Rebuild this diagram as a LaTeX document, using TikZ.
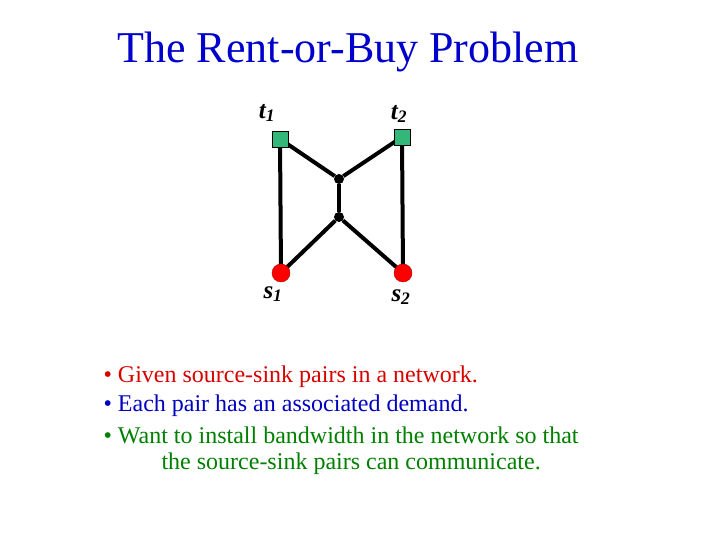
\documentclass[tikz,border=0pt]{standalone}
\usepackage{fontspec}
\setmainfont{Liberation Serif}
\begin{document}
\begin{tikzpicture}[x=1pt,y=-1pt,
  edge/.style={line width=4pt},
  term/.style={draw=black,fill=teal!70!green!80,minimum size=16pt,inner sep=0pt},
  src/.style={circle,fill=red,draw=red!70!black,minimum size=18pt,inner sep=0pt},
  junc/.style={circle,fill=black,minimum size=10pt,inner sep=0pt},
  lab/.style={font=\fontsize{25}{25}\selectfont\itshape\bfseries},
  txt/.style={anchor=west,font=\fontsize{24}{27}\selectfont}]
\path[use as bounding box,fill=white] (0,0) rectangle (720,540);
\node[font=\fontsize{44}{48}\selectfont,text=blue!80!black] (title) at (348,52) {The Rent-or-Buy Problem};
\node[junc] (u) at (339,179) {};
\node[junc] (l) at (339,217) {};
\draw[edge] (280,139) -- (u);
\draw[edge] (402,137) -- (u);
\draw[edge] (u) -- (l);
\draw[edge] (l) -- (281,273);
\draw[edge] (l) -- (403,273);
\draw[edge] (280,139) -- (281,273);
\draw[edge] (402,137) -- (403,273);
\node[term] (t1) at (280,139) {};
\node[term] (t2) at (402,137) {};
\node[src] (s1) at (281,273) {};
\node[src] (s2) at (403,273) {};
\node[lab] (lt1) at (267,113) {t\textsubscript{\textit{1}}};
\node[lab] (lt2) at (399,114) {t\textsubscript{2}};
\node[lab] (ls1) at (273,294) {s\textsubscript{\textit{1}}};
\node[lab] (ls2) at (401,297) {s\textsubscript{2}};
\node[txt,text=red!85!black] (b1) at (100,377) {• Given source-sink pairs in a network.};
\node[txt,text=blue!75!black] (b2) at (100,406) {• Each pair has an associated demand.};
\node[txt,text=green!50!black] (b3) at (100,435) {• Want to install bandwidth in the network so that};
\node[txt,text=green!50!black] (b4) at (158,464) {the source-sink pairs can communicate.};
\end{tikzpicture}
\end{document}
